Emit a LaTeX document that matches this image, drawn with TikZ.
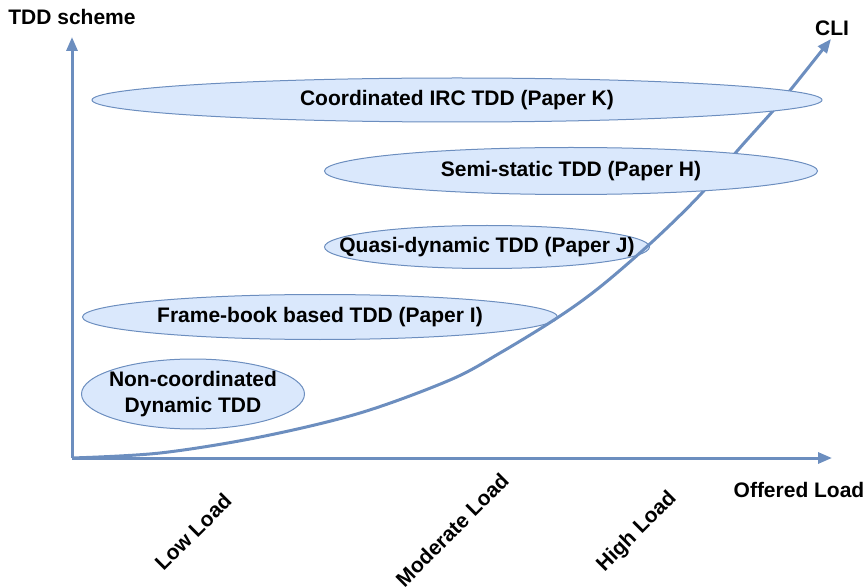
\documentclass[tikz,border=0pt]{standalone}
\usepackage{fontspec}
\setmainfont{Liberation Sans}
\usetikzlibrary{arrows.meta,shapes.geometric}
\definecolor{edgeblue}{HTML}{6C8EBF}
\definecolor{fillblue}{HTML}{DAE8FC}
\tikzset{
  ell/.style={ellipse, draw=edgeblue, fill=fillblue, line width=1pt, inner sep=0pt},
  txt/.style={align=center, inner sep=0pt, font=\fontsize{21}{26}\selectfont\bfseries},
  lbl/.style={font=\fontsize{21}{26}\selectfont\bfseries, inner sep=0pt},
  axisline/.style={draw=edgeblue, line width=3pt, -{Triangle[length=14pt,width=11pt]}},
}
\begin{document}
\begin{tikzpicture}[x=1pt,y=-1pt]
\useasboundingbox (0,0) rectangle (868,588);
% lower ellipses
\node[ell, minimum width=325pt, minimum height=43pt] (j) at (487,247) {};
\node[ell, minimum width=475pt, minimum height=45pt] (i) at (320,317) {};
\node[ell, minimum width=223pt, minimum height=70pt] (n) at (193,394) {};
% axes and curve
\coordinate (o) at (72,458);
\coordinate (ytip) at (72,37);
\coordinate (xtip) at (832,458);
\coordinate (clitip) at (831,39);
\draw[axisline] (o) -- (ytip);
\draw[axisline] (o) -- (xtip);
\draw[axisline] plot[smooth, tension=0.55] coordinates {(72,458) (160,453) (260,437) (360,413) (450,380) (500,353) (557,318) (600,287) (652,242) (700,195) (738,150) (772,112) (792,88) (831,39)};
% upper ellipses (curve runs behind them)
\node[ell, minimum width=730pt, minimum height=44pt] (k) at (457,100) {};
\node[ell, minimum width=493pt, minimum height=47pt] (h) at (571,171) {};
% ellipse texts
\node[txt] (kt) at (k) {Coordinated IRC TDD (Paper K)};
\node[txt] (ht) at (h) {Semi-static TDD (Paper H)};
\node[txt] (jt) at (j) {Quasi-dynamic TDD (Paper J)};
\node[txt] (it) at (i) {Frame-book based TDD (Paper I)};
\node[txt] (nt) at (n) {Non-coordinated\\Dynamic TDD};
% labels
\node[lbl] (ylab) at (72,17) {TDD scheme};
\node[lbl] (xlab) at (799,490) {Offered Load};
\node[lbl] (cli) at (832,28) {CLI};
\node[lbl, rotate=45] (low) at (193,532) {Low Load};
\node[lbl, rotate=45] (mod) at (452,530) {Moderate Load};
\node[lbl, rotate=45] (high) at (637,532) {High Load};
\end{tikzpicture}
\end{document}
